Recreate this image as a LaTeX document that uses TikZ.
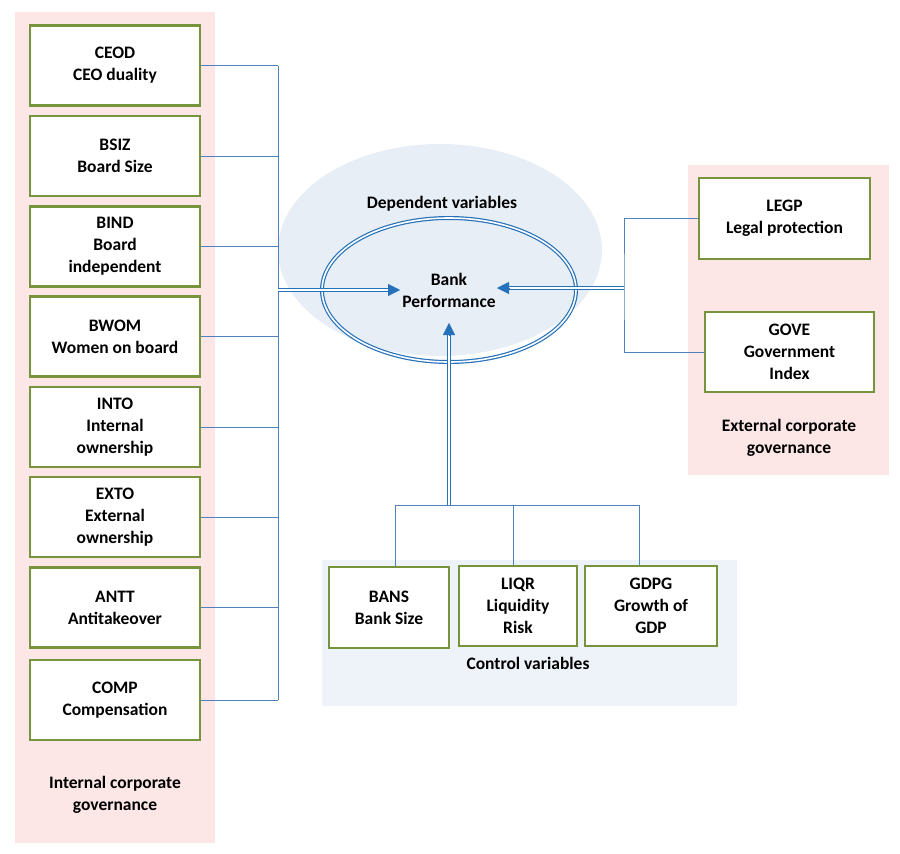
\documentclass[tikz,border=0pt]{standalone}
\usepackage{fontspec}
\setmainfont{Carlito}
\usetikzlibrary{arrows.meta,calc,shapes.geometric}
\definecolor{panelpink}{HTML}{FCE6E6}
\definecolor{panelblue}{HTML}{EEF2F9}
\definecolor{ellblue}{HTML}{E8EEF6}
\definecolor{boxgreen}{HTML}{77933C}
\definecolor{linkblue}{HTML}{4F81BD}
\definecolor{tipblue}{HTML}{2672BA}
\begin{document}
\begin{tikzpicture}[x=1pt,y=-1pt,
  lbl/.style={font=\bfseries\fontsize{17.5}{22}\selectfont,align=center,text=black},
  vbox/.style={lbl,draw=boxgreen,line width=2.6pt,fill=white,inner sep=0pt,minimum width=170pt,minimum height=80pt},
  link/.style={draw=linkblue,line width=1pt},
  dbl/.style={draw=tipblue,line width=1.2pt,double=white,double distance=1.6pt},
  tip/.style={draw=tipblue,line width=0.4pt,-{Triangle[length=12pt,width=12pt]},fill=tipblue}]
\useasboundingbox (0,0) rectangle (900,854);
% panels
\fill[panelpink] (15,12) rectangle (215,843);
\fill[panelpink] (688,165) rectangle (889,475);
\fill[panelblue] (322,560) rectangle (737,706);
\fill[ellblue] (440,250) ellipse [x radius=162, y radius=106];
% left boxes
\node[vbox] (ceod) at (115,65.5) {CEOD\\CEO duality};
\node[vbox] (bsiz) at (115,156) {BSIZ\\Board Size};
\node[vbox] (bind) at (115,246.5) {BIND\\Board\\independent};
\node[vbox] (bwom) at (115,336.5) {BWOM\\Women on board};
\node[vbox] (into) at (115,427) {INTO\\Internal\\ownership};
\node[vbox] (exto) at (115,517) {EXTO\\External\\ownership};
\node[vbox] (antt) at (115,607.5) {ANTT\\Antitakeover};
\node[vbox] (comp) at (115,700) {COMP\\Compensation};
\node[lbl] (intl) at (115,795) {Internal corporate\\governance};
% right boxes
\node[vbox,minimum width=171pt,minimum height=81pt] (legp) at (784.5,218.5) {LEGP\\Legal protection};
\node[vbox,minimum width=169pt,minimum height=80pt] (gove) at (789.5,352) {GOVE\\Government\\Index};
\node[lbl] (extl) at (789,438) {External corporate\\governance};
% bottom boxes
\node[vbox,minimum width=120pt,minimum height=81pt] (bans) at (389,607.5) {BANS\\Bank Size};
\node[vbox,minimum width=118pt,minimum height=80pt] (liqr) at (518,606) {LIQR\\Liquidity\\Risk};
\node[vbox,minimum width=132pt,minimum height=80pt] (gdpg) at (651,606) {GDPG\\Growth of\\GDP};
\node[lbl] (ctrl) at (528,663) {Control variables};
% centre
\node[lbl] (dep) at (442,204) {Dependent variables};
\node[dbl,ellipse,minimum width=254pt,minimum height=144pt,inner sep=0pt] (perf) at (449,290) {};
\node[lbl] (bp) at (449,290) {Bank\\Performance};
% left bus
\coordinate (bus) at (278,290);
\foreach \n in {ceod,bsiz,bind,bwom,into,exto,antt,comp}
  \draw[link] (\n.east) -- (\n.east -| bus);
\draw[link] (ceod.east -| bus) -- (comp.east -| bus);
\coordinate (ltip) at (400,290);
\draw[dbl] (bus) -- ([xshift=-10pt]ltip);
\draw[tip] ([xshift=-12pt]ltip) -- (ltip);
% right bus
\coordinate (rbus) at (624,288);
\draw[link] (legp.west) -| (rbus) |- (gove.west);
\coordinate (rtip) at (497,288);
\draw[dbl] (rbus) -- ([xshift=10pt]rtip);
\draw[tip] ([xshift=12pt]rtip) -- (rtip);
% bottom bus
\coordinate (bbus) at (449,505);
\draw[link] ([xshift=6pt]bans.north) |- ([xshift=-12pt]gdpg.north |- bbus) -- ([xshift=-12pt]gdpg.north);
\draw[link] ([xshift=-5pt]liqr.north) -- ([xshift=-5pt]liqr.north |- bbus);
\coordinate (utip) at (449,323);
\draw[dbl] (bbus) -- ([yshift=-10pt]utip);
\draw[tip] ([yshift=-12pt]utip) -- (utip);
\end{tikzpicture}
\end{document}
